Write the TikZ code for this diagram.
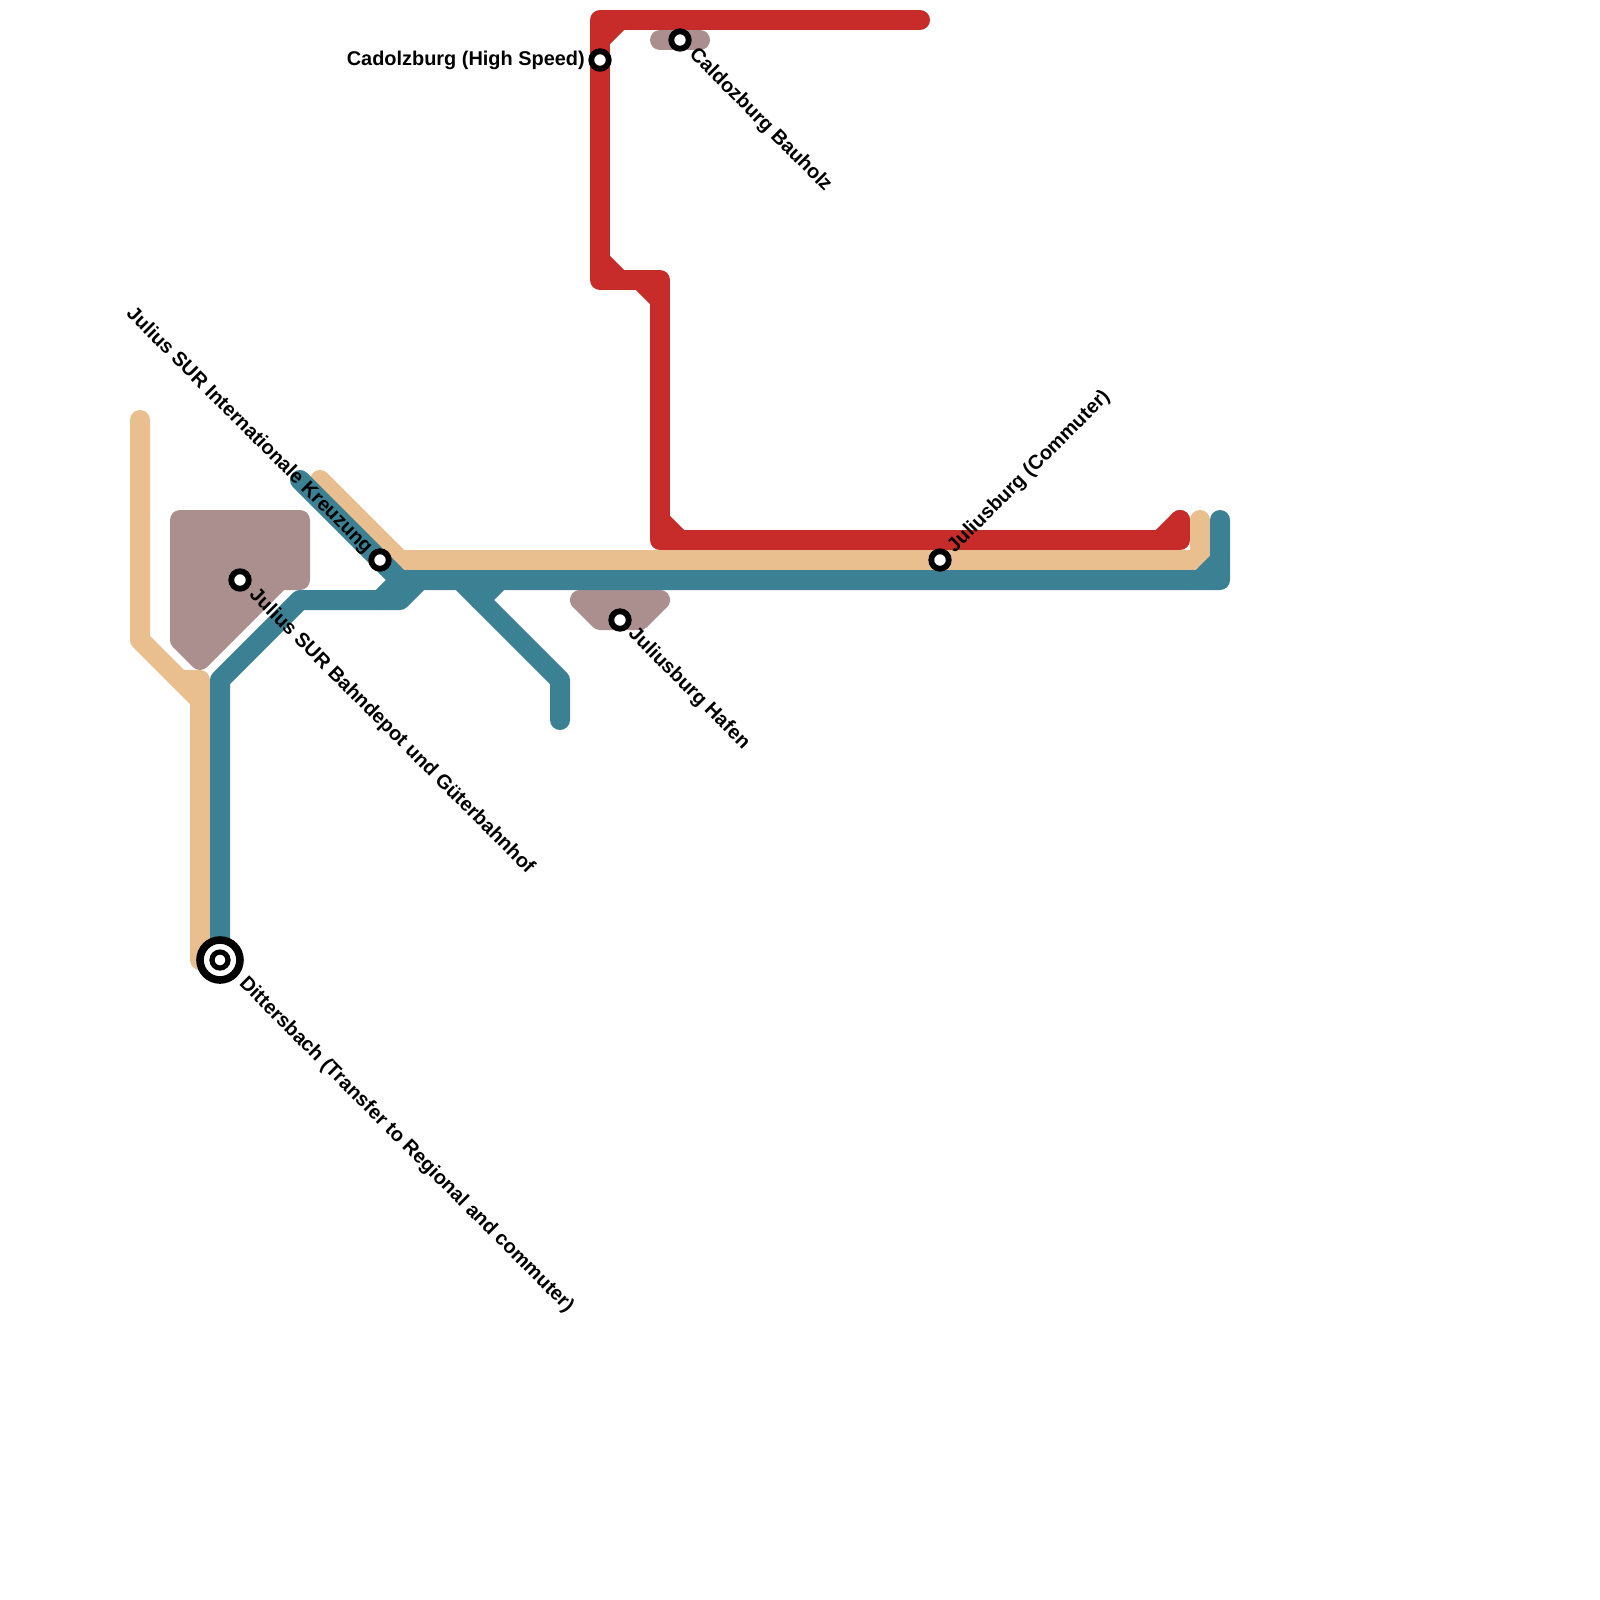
\documentclass[tikz,border=0pt]{standalone}
\usepackage{xcolor}
\usepackage{fontspec}
\setmainfont{Liberation Sans}
\definecolor{hsred}{HTML}{C72B2A}
\definecolor{regtan}{HTML}{EABF8F}
\definecolor{comblue}{HTML}{3C8094}
\definecolor{frtbrown}{HTML}{AB8F8E}
\begin{document}
\begin{tikzpicture}[x=0.5cm,y=-0.5cm,
    metroline/.style={line width=0.5cm, line cap=round, line join=round},
    station/.style={circle, draw=black, fill=white, line width=0.145cm, minimum size=0.4375cm, inner sep=0pt},
    stationlabel/.style={font=\bfseries\fontsize{14.17pt}{17pt}\selectfont, inner sep=0pt}]
  \useasboundingbox (0,0) rectangle (80,80);

  % Stations
  \coordinate (cadolzburg) at (30,3);
  \coordinate (caldozburg) at (34,2);
  \coordinate (kreuzung) at (19,28);
  \coordinate (depot) at (12,29);
  \coordinate (hafen) at (31,31);
  \coordinate (juliusburg) at (47,28);
  \coordinate (dittersbach) at (11,48);

  % Freight areas
  \coordinate (f1) at (9,26);
  \coordinate (f2) at (15,26);
  \coordinate (f3) at (15,29);
  \coordinate (f4) at (14,29);
  \coordinate (f5) at (10,33);
  \coordinate (f6) at (9,32);
  \coordinate (f7) at (29,30);
  \coordinate (f8) at (33,30);
  \coordinate (f9) at (32,31);
  \coordinate (f10) at (30,31);
  \coordinate (f11) at (33,2);
  \coordinate (f12) at (35,2);
  \draw[metroline, draw=frtbrown, fill=frtbrown] (f1) -- (f2) -- (f3) -- (f4) -- (f5) -- (f6) -- cycle;
  \draw[metroline, draw=frtbrown, fill=frtbrown] (f7) -- (f8) -- (f9) -- (f10) -- cycle;
  \draw[metroline, draw=frtbrown] (f11) -- (f12);

  % High speed line
  \coordinate (r1) at (46,1);
  \coordinate (r2) at (30,1);
  \coordinate (r3) at (30,14);
  \coordinate (r4) at (33,14);
  \coordinate (r5) at (33,27);
  \coordinate (r6) at (59,27);
  \coordinate (r7) at (59,26);
  \coordinate (r8) at (31,1);
  \coordinate (r9) at (30,2);
  \coordinate (r10) at (30,13);
  \coordinate (r11) at (31,14);
  \coordinate (r12) at (32,14);
  \coordinate (r13) at (33,15);
  \coordinate (r14) at (33,26);
  \coordinate (r15) at (34,27);
  \coordinate (r16) at (58,27);
  \draw[metroline, draw=hsred] (r1) -- (r2) -- (r3) -- (r4) -- (r5) -- (r6) -- (r7);
  \draw[metroline, draw=hsred] (r8) -- (r9);
  \draw[metroline, draw=hsred] (r10) -- (r11);
  \draw[metroline, draw=hsred] (r12) -- (r13);
  \draw[metroline, draw=hsred] (r14) -- (r15);
  \draw[metroline, draw=hsred] (r16) -- (r7);

  % Regional line
  \coordinate (t1) at (7,21);
  \coordinate (t2) at (7,32);
  \coordinate (t3) at (10,35);
  \coordinate (t4) at (10,48);
  \coordinate (t5) at (9,34);
  \coordinate (t6) at (10,34);
  \coordinate (t7) at (16,24);
  \coordinate (t8) at (20,28);
  \coordinate (t9) at (60,28);
  \coordinate (t10) at (60,26);
  \draw[metroline, draw=regtan] (t1) -- (t2) -- (t3) -- (t4);
  \draw[metroline, draw=regtan] (t5) -- (t6) -- (t3);
  \draw[metroline, draw=regtan] (t7) -- (t8) -- (t9) -- (t10);

  % Commuter line
  \coordinate (b1) at (15,24);
  \coordinate (b2) at (20,29);
  \coordinate (b3) at (61,29);
  \coordinate (b4) at (61,26);
  \coordinate (b5) at (60,29);
  \coordinate (b6) at (61,28);
  \coordinate (b7) at (11,34);
  \coordinate (b8) at (15,30);
  \coordinate (b9) at (20,30);
  \coordinate (b10) at (21,29);
  \coordinate (b11) at (19,30);
  \coordinate (b12) at (23,29);
  \coordinate (b13) at (28,34);
  \coordinate (b14) at (28,36);
  \coordinate (b15) at (24,30);
  \coordinate (b16) at (25,29);
  \draw[metroline, draw=comblue] (b1) -- (b2) -- (b3) -- (b4);
  \draw[metroline, draw=comblue] (b5) -- (b6);
  \draw[metroline, draw=comblue] (dittersbach) -- (b7) -- (b8) -- (b9) -- (b10);
  \draw[metroline, draw=comblue] (b11) -- (b2);
  \draw[metroline, draw=comblue] (b12) -- (b13) -- (b14);
  \draw[metroline, draw=comblue] (b15) -- (b16);

  % Station markers
  \node[station] (cadolzburgstop) at (cadolzburg) {};
  \node[station] (caldozburgstop) at (caldozburg) {};
  \node[station] (kreuzungstop) at (kreuzung) {};
  \node[station] (depotstop) at (depot) {};
  \node[station] (hafenstop) at (hafen) {};
  \node[station] (juliusburgstop) at (juliusburg) {};
  \node[circle, draw=black, fill=white, line width=0.19cm, minimum size=1cm, inner sep=0pt] (dittersbachouter) at (dittersbach) {};
  \node[circle, draw=black, fill=white, line width=0.13cm, minimum size=0.4cm, inner sep=0pt] (dittersbachinner) at (dittersbach) {};

  % Labels
  \node[stationlabel, anchor=east] (cadolzburgtext) at (29.25,3.0) {Cadolzburg (High Speed)};
  \node[stationlabel, anchor=west, rotate=-45] (caldozburgtext) at (34.6,2.6) {Caldozburg Bauholz};
  \node[stationlabel, anchor=east, rotate=-45] (kreuzungtext) at (18.45,27.55) {Julius SUR Internationale Kreuzung};
  \node[stationlabel, anchor=west, rotate=-45] (depottext) at (12.6,29.6) {Julius SUR Bahndepot und Güterbahnhof};
  \node[stationlabel, anchor=west, rotate=-45] (hafentext) at (31.55,31.55) {Juliusburg Hafen};
  \node[stationlabel, anchor=west, rotate=45] (juliusburgtext) at (47.55,27.5) {Juliusburg (Commuter)};
  \node[stationlabel, anchor=west, rotate=-45] (dittersbachtext) at (12.1,49.05) {Dittersbach (Transfer to Regional and commuter)};
\end{tikzpicture}
\end{document}
